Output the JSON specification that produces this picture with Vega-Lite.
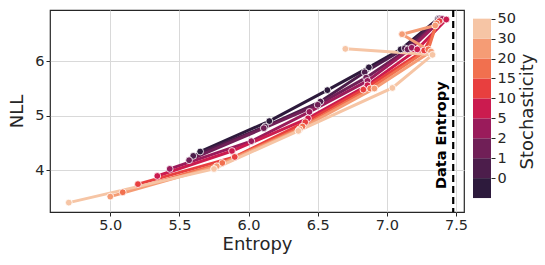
{
  "$schema": "https://vega.github.io/schema/vega-lite/v6.json",
  "padding": {"left": 8, "top": 8, "right": 2, "bottom": 2},
  "spacing": 4,
  "config": {
    "font": "DejaVu Sans",
    "view": {"stroke": "#262626", "strokeWidth": 1.2},
    "axis": {
      "labelFontSize": 14.5, "titleFontSize": 18, "labelColor": "#262626", "titleColor": "#262626",
      "titleFontWeight": "normal", "tickColor": "#262626", "tickSize": 4, "gridColor": "#d9d9d9",
      "domain": false
    }
  },
  "datasets": {
    "runs": [
      {"s": "0", "step": 1, "entropy": 5.65, "nll": 4.34},
      {"s": "0", "step": 2, "entropy": 6.15, "nll": 4.90},
      {"s": "0", "step": 3, "entropy": 6.57, "nll": 5.47},
      {"s": "0", "step": 4, "entropy": 6.87, "nll": 5.89},
      {"s": "0", "step": 5, "entropy": 7.10, "nll": 6.22},
      {"s": "0", "step": 6, "entropy": 7.37, "nll": 6.78},
      {"s": "1", "step": 1, "entropy": 5.60, "nll": 4.26},
      {"s": "1", "step": 2, "entropy": 6.12, "nll": 4.80},
      {"s": "1", "step": 3, "entropy": 6.52, "nll": 5.26},
      {"s": "1", "step": 4, "entropy": 6.84, "nll": 5.80},
      {"s": "1", "step": 5, "entropy": 7.13, "nll": 6.24},
      {"s": "1", "step": 6, "entropy": 7.38, "nll": 6.79},
      {"s": "2", "step": 1, "entropy": 5.57, "nll": 4.18},
      {"s": "2", "step": 2, "entropy": 6.11, "nll": 4.77},
      {"s": "2", "step": 3, "entropy": 6.50, "nll": 5.20},
      {"s": "2", "step": 4, "entropy": 6.85, "nll": 5.70},
      {"s": "2", "step": 5, "entropy": 7.15, "nll": 6.22},
      {"s": "2", "step": 6, "entropy": 7.39, "nll": 6.78},
      {"s": "5", "step": 1, "entropy": 5.43, "nll": 4.02},
      {"s": "5", "step": 2, "entropy": 6.02, "nll": 4.53},
      {"s": "5", "step": 3, "entropy": 6.44, "nll": 5.07},
      {"s": "5", "step": 4, "entropy": 6.86, "nll": 5.64},
      {"s": "5", "step": 5, "entropy": 7.18, "nll": 6.25},
      {"s": "5", "step": 6, "entropy": 7.40, "nll": 6.78},
      {"s": "10", "step": 1, "entropy": 5.34, "nll": 3.89},
      {"s": "10", "step": 2, "entropy": 5.88, "nll": 4.35},
      {"s": "10", "step": 3, "entropy": 6.43, "nll": 4.95},
      {"s": "10", "step": 4, "entropy": 6.86, "nll": 5.56},
      {"s": "10", "step": 5, "entropy": 7.22, "nll": 6.22},
      {"s": "10", "step": 6, "entropy": 7.43, "nll": 6.77},
      {"s": "15", "step": 1, "entropy": 5.20, "nll": 3.74},
      {"s": "15", "step": 2, "entropy": 5.90, "nll": 4.24},
      {"s": "15", "step": 3, "entropy": 6.41, "nll": 4.88},
      {"s": "15", "step": 4, "entropy": 6.83, "nll": 5.48},
      {"s": "15", "step": 5, "entropy": 7.27, "nll": 6.20},
      {"s": "15", "step": 6, "entropy": 7.38, "nll": 6.74},
      {"s": "20", "step": 1, "entropy": 5.09, "nll": 3.59},
      {"s": "20", "step": 2, "entropy": 5.81, "nll": 4.13},
      {"s": "20", "step": 3, "entropy": 6.39, "nll": 4.80},
      {"s": "20", "step": 4, "entropy": 6.88, "nll": 5.50},
      {"s": "20", "step": 5, "entropy": 7.30, "nll": 6.22},
      {"s": "20", "step": 6, "entropy": 7.36, "nll": 6.70},
      {"s": "30", "step": 1, "entropy": 5.00, "nll": 3.51},
      {"s": "30", "step": 2, "entropy": 5.77, "nll": 4.07},
      {"s": "30", "step": 3, "entropy": 6.37, "nll": 4.75},
      {"s": "30", "step": 4, "entropy": 6.91, "nll": 5.50},
      {"s": "30", "step": 5, "entropy": 7.32, "nll": 6.18},
      {"s": "30", "step": 6, "entropy": 7.11, "nll": 6.50},
      {"s": "30", "step": 7, "entropy": 7.35, "nll": 6.66},
      {"s": "50", "step": 1, "entropy": 4.70, "nll": 3.40},
      {"s": "50", "step": 2, "entropy": 5.75, "nll": 4.02},
      {"s": "50", "step": 3, "entropy": 6.36, "nll": 4.72},
      {"s": "50", "step": 4, "entropy": 7.04, "nll": 5.51},
      {"s": "50", "step": 5, "entropy": 7.33, "nll": 6.12},
      {"s": "50", "step": 6, "entropy": 6.70, "nll": 6.23}
    ],
    "bins": [
      {"s": "0", "lo": 0, "hi": 1},
      {"s": "1", "lo": 1, "hi": 2},
      {"s": "2", "lo": 2, "hi": 3},
      {"s": "5", "lo": 3, "hi": 4},
      {"s": "10", "lo": 4, "hi": 5},
      {"s": "15", "lo": 5, "hi": 6},
      {"s": "20", "lo": 6, "hi": 7},
      {"s": "30", "lo": 7, "hi": 8},
      {"s": "50", "lo": 8, "hi": 9}
    ],
    "ref": [
      {"entropy": 7.48, "nll": 4.64, "label": "Data Entropy"}
    ]
  },
  "hconcat": [
    {
      "width": 414,
      "height": 202,
      "layer": [
        {
          "data": {"name": "runs"},
          "mark": {"type": "line", "strokeWidth": 3},
          "encoding": {
            "x": {"field": "entropy", "type": "quantitative", "title": "Entropy",
                  "scale": {"domain": [4.564, 7.558], "nice": false, "zero": false},
                  "axis": {"values": [5, 5.5, 6, 6.5, 7, 7.5], "format": ".1f", "titlePadding": 4}},
            "y": {"field": "nll", "type": "quantitative", "title": "NLL",
                  "scale": {"domain": [3.227, 6.945], "nice": false, "zero": false},
                  "axis": {"values": [4, 5, 6], "format": "d", "titlePadding": 8}},
            "color": {"field": "s", "type": "nominal", "legend": null,
                      "scale": {"domain": ["0", "1", "2", "5", "10", "15", "20", "30", "50"],
                                "range": ["#2d1a3c", "#4c1d4b", "#701f57", "#9a1b5b", "#cb1b4f", "#e83f3f", "#f1704f", "#f59c75", "#f6c5a5"]}},
            "order": {"field": "step", "type": "quantitative"}
          }
        },
        {
          "data": {"name": "runs"},
          "mark": {"type": "point", "filled": true, "size": 46, "stroke": "white", "strokeWidth": 0.8, "opacity": 1},
          "encoding": {
            "x": {"field": "entropy", "type": "quantitative"},
            "y": {"field": "nll", "type": "quantitative"},
            "color": {"field": "s", "type": "nominal", "legend": null}
          }
        },
        {
          "data": {"name": "ref"},
          "mark": {"type": "rule", "color": "black", "strokeWidth": 2.2, "strokeDash": [7, 4]},
          "encoding": {"x": {"field": "entropy", "type": "quantitative"}}
        },
        {
          "data": {"name": "ref"},
          "mark": {"type": "text", "angle": 270, "fontWeight": "bold", "fontSize": 14.5, "color": "black", "baseline": "bottom", "align": "center", "dy": -4},
          "encoding": {
            "x": {"field": "entropy", "type": "quantitative"},
            "y": {"field": "nll", "type": "quantitative"},
            "text": {"field": "label"}
          }
        }
      ]
    },
    {
      "width": 18,
      "height": 202,
      "view": {"stroke": null},
      "data": {"name": "bins"},
      "mark": {"type": "rect"},
      "encoding": {
        "y": {"field": "lo", "type": "quantitative", "title": "Stochasticity",
              "scale": {"domain": [-0.7, 9.435], "nice": false, "zero": false},
              "axis": {"orient": "right", "values": [1, 2, 3, 4, 5, 6, 7, 8, 9], "grid": false,
                       "labelExpr": "['0','1','2','5','10','15','20','30','50'][datum.value - 1]",
                       "titleAngle": 270, "titleBaseline": "top", "titlePadding": 3}},
        "y2": {"field": "hi"},
        "color": {"field": "s", "type": "nominal", "legend": null,
                  "scale": {"domain": ["0", "1", "2", "5", "10", "15", "20", "30", "50"],
                            "range": ["#2d1a3c", "#4c1d4b", "#701f57", "#9a1b5b", "#cb1b4f", "#e83f3f", "#f1704f", "#f59c75", "#f6c5a5"]}}
      }
    }
  ]
}
